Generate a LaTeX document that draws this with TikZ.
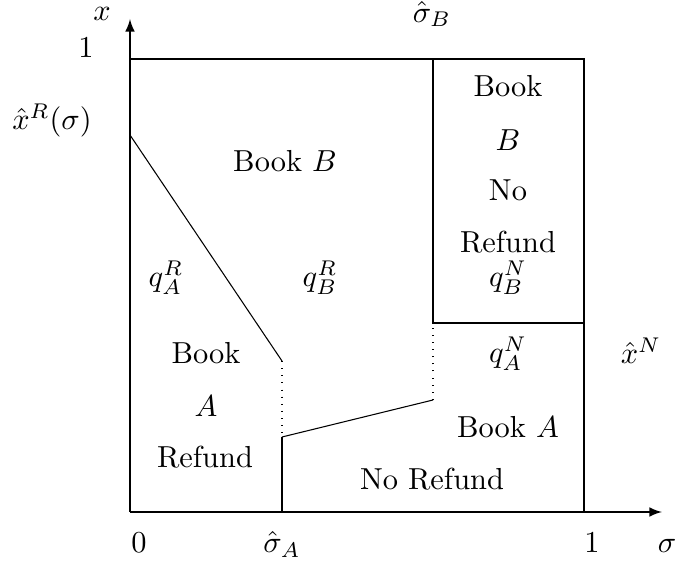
\documentclass[tikz,border=0pt]{standalone}
\usetikzlibrary{arrows.meta}
\begin{document}
\begin{tikzpicture}[x=0.329pt,y=-0.329pt,
  lbl/.style={inner sep=0pt},
  bline/.style={line width=0.35pt},
  axis/.style={line width=0.45pt,-latex}]
\useasboundingbox (0,0) rectangle (678,564);
% key points
\coordinate (O) at (130,512);
\coordinate (Xend) at (662,512);
\coordinate (Yend) at (130,19);
\coordinate (TL) at (130,59);
\coordinate (TR) at (584,59);
\coordinate (BR) at (584,512);
\coordinate (TM) at (433,59);
\coordinate (MM) at (433,323);
\coordinate (MR) at (584,323);
\coordinate (D0) at (130,135);
\coordinate (D1) at (282,361);
\coordinate (D2) at (282,437);
\coordinate (D3) at (433,400);
\coordinate (SA) at (282,512);
% axes
\draw[axis] (O) -- (Xend);
\draw[axis] (O) -- (Yend);
% boundaries
\draw[bline] (TL) -- (TR) -- (BR);
\draw[bline] (TM) -- (MM) -- (MR);
\draw[bline] (D0) -- (D1);
\draw[bline,dotted] (D1) -- (D2);
\draw[bline] (D2) -- (D3);
\draw[bline,dotted] (D3) -- (MM);
\draw[bline] (D2) -- (SA);
% axis labels
\node[lbl] (lx) at (102,14) {$x$};
\node[lbl] (l1y) at (86,48) {$1$};
\node[lbl] (lxr) at (52,121) {$\hat{x}^R(\sigma)$};
\node[lbl] (lsb) at (432,14) {$\hat{\sigma}_B$};
\node[lbl] (lxn) at (641,351) {$\hat{x}^N$};
\node[lbl,anchor=base] (l0) at (139,553) {$0$};
\node[lbl,anchor=base] (lsa) at (282,553) {$\hat{\sigma}_A$};
\node[lbl,anchor=base] (l1x) at (592,553) {$1$};
\node[lbl,anchor=base] (lsig) at (667,553) {$\sigma$};
% region labels
\node[lbl] (bookB) at (285,161) {Book $B$};
\node[lbl] (qAR) at (166,278) {$q_A^R$};
\node[lbl] (qBR) at (320,278) {$q_B^R$};
\node[lbl] (rb1) at (508,86) {Book};
\node[lbl] (rb2) at (508,140) {$B$};
\node[lbl] (rb3) at (508,190) {No};
\node[lbl] (rb4) at (508,242) {Refund};
\node[lbl] (qBN) at (508,278) {$q_B^N$};
\node[lbl] (qAN) at (508,354) {$q_A^N$};
\node[lbl] (bookA) at (508,427) {Book $A$};
\node[lbl] (noref) at (432,479) {No Refund};
\node[lbl] (la1) at (206,353) {Book};
\node[lbl] (la2) at (206,406) {$A$};
\node[lbl] (la3) at (205,457) {Refund};
\end{tikzpicture}
\end{document}
